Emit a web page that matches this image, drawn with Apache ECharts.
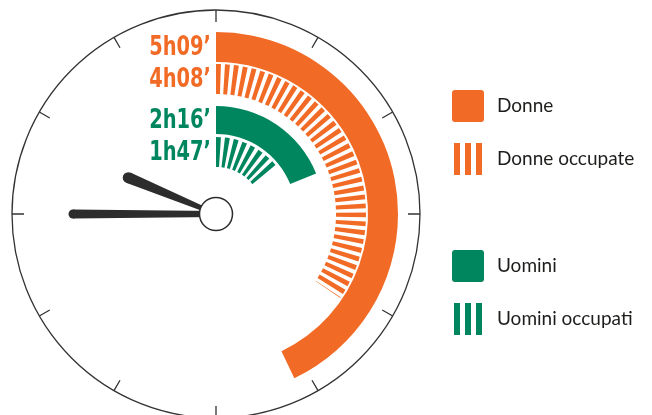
<!DOCTYPE html>
<html>
<head>
<meta charset="utf-8">
<script src="https://cdn.jsdelivr.net/npm/echarts@6/dist/echarts.min.js"></script>
<style>
  html, body { margin: 0; padding: 0; background: #fff; }
  #chart { width: 652px; height: 415px; }
</style>
</head>
<body>
<div id="chart"></div>
<script>
var serie = ['Donne', 'Donne occupate', 'Uomini', 'Uomini occupati'];
var minuti = [309, 248, 136, 107];
var tipo = ['pieno', 'righe', 'pieno', 'righe'];
var orario = [9, 45]; // ore, minuti indicati dalle lancette

var ARANCIO = '#F26B26';
var VERDE = '#00865F';
var colori = [ARANCIO, ARANCIO, VERDE, VERDE];
var anelli = [[152, 182], [120, 150], [80, 108], [47, 77]]; // raggio interno / esterno
var lancette = [
    {len: 95, base: 2, punta: 5.5},   // ore
    {len: 143, base: 3, punta: 4.5}   // minuti
];
var fontNumeri = 'bold 27px "DejaVu Sans Condensed", sans-serif';

var iconaPiena = 'path://M3,0h26a3,3 0 0 1 3,3v26a3,3 0 0 1 -3,3h-26a3,3 0 0 1 -3,-3v-26a3,3 0 0 1 3,-3z';
var iconaRighe = 'path://M2,0h6v32h-6z M13,0h6v32h-6z M24,0h6v32h-6z';

function etichetta(m) {
    var mm = m % 60;
    return Math.floor(m / 60) + 'h' + (mm < 10 ? '0' : '') + mm + '\u2019';
}

function anello(i) {
    var r0 = anelli[i][0], r1 = anelli[i][1];
    return function (params, api) {
        var cs = params.coordSys;
        var a0 = -api.coord([r1, 0])[3];
        var a1 = -api.coord([r1, api.value(0)])[3];
        var colore = api.visual('color');
        var figli = [];
        if (tipo[i] === 'pieno') {
            figli.push({
                type: 'sector',
                shape: {cx: cs.cx, cy: cs.cy, r0: r0, r: r1, startAngle: a0, endAngle: a1, clockwise: true},
                style: {fill: colore}
            });
        } else {
            var passo = 9 / r1, largo = passo * 0.55;
            for (var a = a0; a < a1 - 0.003; a += passo) {
                figli.push({
                    type: 'sector',
                    shape: {cx: cs.cx, cy: cs.cy, r0: r0, r: r1, startAngle: a, endAngle: Math.min(a + largo, a1), clockwise: true},
                    style: {fill: colore}
                });
            }
        }
        var p = api.coord([(r0 + r1) / 2, 0]);
        figli.push({
            type: 'text',
            x: p[0] - 5,
            y: p[1] + 1,
            scaleX: 0.8,
            style: {
                text: etichetta(api.value(0)),
                fill: colore,
                font: fontNumeri,
                align: 'right', verticalAlign: 'middle',
                textAlign: 'right', textVerticalAlign: 'middle'
            }
        });
        return {type: 'group', children: figli};
    };
}

function lancetta(params, api) {
    var cs = params.coordSys;
    var l = lancette[params.dataIndex];
    var p = api.coord([l.len, api.value(0)]);
    var dx = (p[0] - cs.cx) / l.len, dy = (p[1] - cs.cy) / l.len;
    var nx = -dy, ny = dx;
    var figli = [
        {
            type: 'polygon',
            shape: {points: [
                [cs.cx + nx * l.base, cs.cy + ny * l.base],
                [p[0] + nx * l.punta, p[1] + ny * l.punta],
                [p[0] - nx * l.punta, p[1] - ny * l.punta],
                [cs.cx - nx * l.base, cs.cy - ny * l.base]
            ]},
            style: {fill: '#2d2d2d'}
        },
        {type: 'circle', shape: {cx: p[0], cy: p[1], r: l.punta}, style: {fill: '#2d2d2d'}}
    ];
    if (params.dataIndex === lancette.length - 1) {
        figli.push({
            type: 'circle', z2: 10,
            shape: {cx: cs.cx, cy: cs.cy, r: 16.5},
            style: {fill: '#fff', stroke: '#2d2d2d', lineWidth: 1.5}
        });
    }
    return {type: 'group', children: figli};
}

var series = serie.map(function (nome, i) {
    return {
        name: nome,
        type: 'custom',
        coordinateSystem: 'polar',
        itemStyle: {color: colori[i]},
        renderItem: anello(i),
        data: [[minuti[i]]]
    };
});
series.push({
    name: 'lancette',
    type: 'custom',
    coordinateSystem: 'polar',
    renderItem: lancetta,
    z: 5,
    data: [[orario[0] * 60 + orario[1]], [orario[1] * 12]]
});

function legenda(top, nomi) {
    return {
        orient: 'vertical',
        left: 452,
        top: top,
        padding: 0,
        itemWidth: 32,
        itemHeight: 32,
        itemGap: 21,
        selectedMode: false,
        textStyle: {fontSize: 19, color: '#1d1d1b', fontFamily: 'Lato', padding: [0, 0, 0, 8]},
        data: nomi.map(function (n) {
            return {name: n, icon: tipo[serie.indexOf(n)] === 'pieno' ? iconaPiena : iconaRighe};
        })
    };
}

var chart = echarts.init(document.getElementById('chart'));
chart.setOption({
    animation: false,
    polar: {center: [216, 214], radius: 204},
    angleAxis: {
        type: 'value', min: 0, max: 720, interval: 60,
        startAngle: 90, clockwise: true,
        axisLine: {lineStyle: {color: '#333', width: 1.3}},
        axisTick: {inside: true, length: 12, lineStyle: {color: '#333', width: 1.3}},
        axisLabel: {show: false},
        splitLine: {show: false}
    },
    radiusAxis: {
        type: 'value', min: 0, max: 204,
        axisLine: {show: false}, axisTick: {show: false},
        axisLabel: {show: false}, splitLine: {show: false}
    },
    legend: [
        legenda(90, ['Donne', 'Donne occupate']),
        legenda(250, ['Uomini', 'Uomini occupati'])
    ],
    series: series
});
</script>
</body>
</html>
